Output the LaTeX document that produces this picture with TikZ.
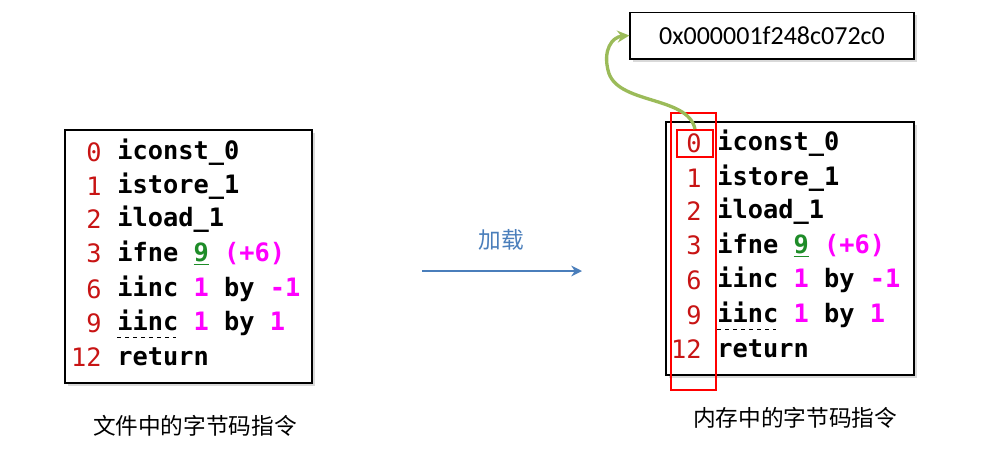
\documentclass[tikz,border=0pt]{standalone}
\usepackage{fontspec}
\setmainfont{Carlito}
\newfontfamily\cjk{Noto Sans CJK SC}
\newfontfamily\codefont{DejaVu Sans Mono}
\usetikzlibrary{shadows,arrows.meta}
\definecolor{numred}{RGB}{200,20,20}
\definecolor{mag}{RGB}{255,0,255}
\definecolor{grn}{RGB}{30,140,40}
\definecolor{arrowgreen}{RGB}{155,187,89}
\definecolor{arrowblue}{RGB}{74,126,187}
\begin{document}
\begin{tikzpicture}[x=0.75pt,y=-0.75pt,
  codebox/.style={draw=black,line width=1pt,fill=white,drop shadow={shadow xshift=2pt,shadow yshift=-2pt,opacity=0.3}},
  num/.style={anchor=east,inner sep=0pt,text=numred,font=\codefont\fontsize{19}{21}\selectfont},
  code/.style={anchor=west,inner sep=0pt,font=\codefont\bfseries\fontsize{19}{21}\selectfont},
  captext/.style={font=\cjk\fontsize{17}{19}\selectfont}]
\useasboundingbox (0,0) rectangle (1001,458);
% left box
\path[codebox] (65,130) rectangle (312,383);
\foreach \n/\y/\t in {0/152/{iconst\_0},1/186/{istore\_1},2/219/{iload\_1},
  3/253/{ifne \textcolor{grn}{\underline{9}} \textcolor{mag}{(+6)}},
  6/289/{iinc \textcolor{mag}{1} by \textcolor{mag}{-1}},
  9/323/{iinc \textcolor{mag}{1} by \textcolor{mag}{1}},12/357/{return}}{
  \node[num] (ln\n) at (102,\y) {\n};
  \node[code] (lt\n) at (117,\y) {\t};
}
\draw[dashed,line width=0.6pt] (117,337) -- (176,337);
% right box
\path[codebox] (666,122) rectangle (914,375);
\foreach \n/\y/\t in {0/143/{iconst\_0},1/178/{istore\_1},2/211/{iload\_1},
  3/245/{ifne \textcolor{grn}{\underline{9}} \textcolor{mag}{(+6)}},
  6/280/{iinc \textcolor{mag}{1} by \textcolor{mag}{-1}},
  9/315/{iinc \textcolor{mag}{1} by \textcolor{mag}{1}},12/349/{return}}{
  \node[num] (rn\n) at (702,\y) {\n};
  \node[code] (rt\n) at (717,\y) {\t};
}
\draw[dashed,line width=0.6pt] (717,329) -- (776,329);
\draw[red,line width=1.6pt] (671,113) rectangle (716,390);
\node[draw=red,line width=1.6pt,minimum width=27pt,minimum height=20pt,inner sep=0pt] (zero) at (695,143.5) {};
% address box
\node[codebox,minimum width=213pt,minimum height=35pt,font=\fontsize{19.5}{21}\selectfont] (addr) at (772,35.5) {0x000001f248c072c0};
\draw[arrowgreen,line width=2.5pt,-{Stealth[length=9pt,width=9pt]}] (zero.north) .. controls (688,95) and (615,105) .. (608,70) .. controls (603,50) and (612,37) .. (addr.west);
% blue arrow
\coordinate (bs) at (422,271);
\coordinate (be) at (582,271);
\draw[arrowblue,line width=2pt,-{Stealth[length=8pt,width=8pt]}] (bs) -- (be);
\node[captext,text=arrowblue] (load) at (501,240) {加载};
\node[captext] (c1) at (195,426) {文件中的字节码指令};
\node[captext] (c2) at (795,418) {内存中的字节码指令};
\end{tikzpicture}
\end{document}
